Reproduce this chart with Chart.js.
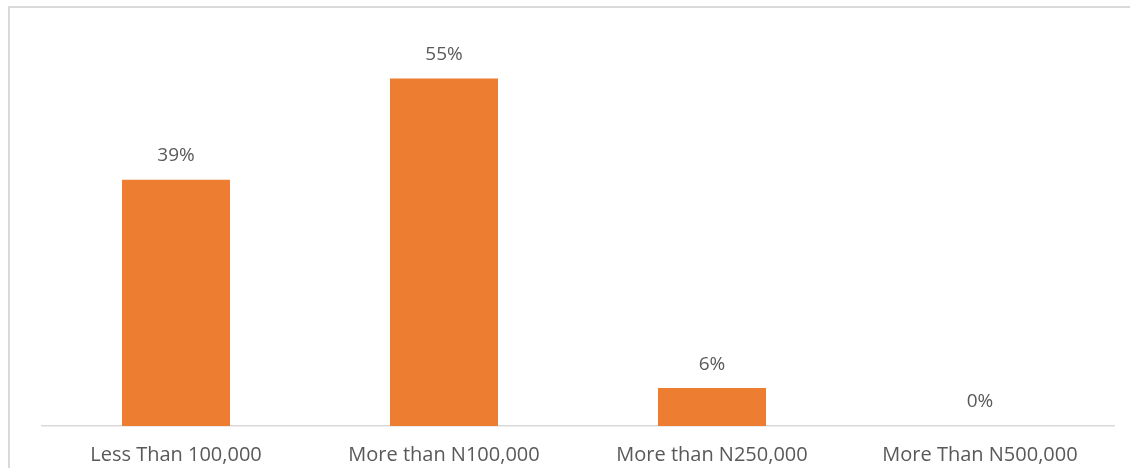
<!DOCTYPE html>
<html>
<head>
<meta charset="utf-8">
<script src="https://cdn.jsdelivr.net/npm/chart.js@4/dist/chart.umd.min.js"></script>
<style>
  html, body { margin: 0; padding: 0; background: #fff; }
  #wrap { width: 1130px; height: 468px; position: relative; }
</style>
</head>
<body>
<div id="wrap"><canvas id="salaryChart" width="1130" height="468"></canvas></div>
<script>
const categories = ["Less Than 100,000", "More than N100,000", "More than N250,000", "More Than N500,000"];
const shares = [39, 55, 6, 0];
const valueLabels = ["39%", "55%", "6%", "0%"];

const textColor = "#595959";
const fontFamily = "'Open Sans', 'Noto Sans', sans-serif";

// light frame along the top and left edge
const framePlugin = {
  id: "frame",
  beforeDraw(chart) {
    const ctx = chart.ctx;
    ctx.save();
    ctx.strokeStyle = "#d9d9d9";
    ctx.lineWidth = 2;
    ctx.beginPath();
    ctx.moveTo(9, chart.height);
    ctx.lineTo(9, 7);
    ctx.lineTo(chart.width, 7);
    ctx.stroke();
    ctx.restore();
  }
};

// percentage text above each bar
const valueLabelPlugin = {
  id: "valueLabels",
  afterDatasetsDraw(chart) {
    const ctx = chart.ctx;
    const meta = chart.getDatasetMeta(0);
    ctx.save();
    ctx.fillStyle = textColor;
    ctx.font = "19px " + fontFamily;
    ctx.textAlign = "center";
    ctx.textBaseline = "middle";
    meta.data.forEach((bar, i) => {
      ctx.fillText(valueLabels[i], bar.x, bar.y - 24);
    });
    ctx.restore();
  }
};

new Chart(document.getElementById("salaryChart"), {
  type: "bar",
  data: {
    labels: categories,
    datasets: [{
      data: shares,
      backgroundColor: "#ed7d31",
      categoryPercentage: 1,
      barPercentage: 0.403
    }]
  },
  options: {
    responsive: false,
    animation: false,
    layout: { padding: { left: 42, right: 16, top: 47, bottom: -8 } },
    plugins: { legend: { display: false }, tooltip: { enabled: false } },
    scales: {
      x: {
        grid: { display: false },
        border: { color: "#d9d9d9", width: 1.5 },
        ticks: { color: textColor, font: { family: fontFamily, size: 20 }, padding: 9 }
      },
      y: { display: false, min: 0, max: 60 }
    }
  },
  plugins: [framePlugin, valueLabelPlugin]
});
</script>
</body>
</html>
